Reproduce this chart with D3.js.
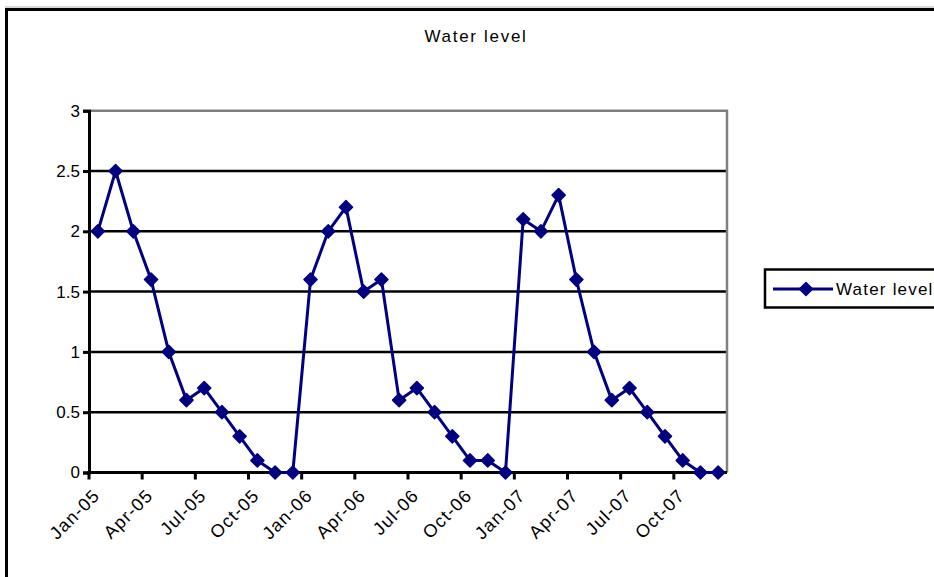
<!DOCTYPE html>
<html>
<head>
<meta charset="utf-8">
<script src="https://cdn.jsdelivr.net/npm/d3@7"></script>
<style>
  html, body { margin: 0; padding: 0; background: #fff; }
  svg { display: block; font-family: "Liberation Sans", Arial, sans-serif; }
</style>
</head>
<body>
<svg id="chart" width="934" height="577"></svg>
<script>
// Monthly observations, Jan 2005 – Dec 2007
const months = [
  "Jan-05","Feb-05","Mar-05","Apr-05","May-05","Jun-05","Jul-05","Aug-05","Sep-05","Oct-05","Nov-05","Dec-05",
  "Jan-06","Feb-06","Mar-06","Apr-06","May-06","Jun-06","Jul-06","Aug-06","Sep-06","Oct-06","Nov-06","Dec-06",
  "Jan-07","Feb-07","Mar-07","Apr-07","May-07","Jun-07","Jul-07","Aug-07","Sep-07","Oct-07","Nov-07","Dec-07"
];
const waterLevel = [
  2.0, 2.5, 2.0, 1.6, 1.0, 0.6, 0.7, 0.5, 0.3, 0.1, 0.0, 0.0,
  1.6, 2.0, 2.2, 1.5, 1.6, 0.6, 0.7, 0.5, 0.3, 0.1, 0.1, 0.0,
  2.1, 2.0, 2.3, 1.6, 1.0, 0.6, 0.7, 0.5, 0.3, 0.1, 0.0, 0.0
];
const tickMonths = ["Jan-05","Apr-05","Jul-05","Oct-05","Jan-06","Apr-06","Jul-06","Oct-06","Jan-07","Apr-07","Jul-07","Oct-07"];
const yTicks = [0, 0.5, 1, 1.5, 2, 2.5, 3];
const seriesName = "Water level";
const title = "Water level";

const svg = d3.select("#chart");
const navy = "#000080";

// Chart frame
svg.append("line").attr("x1", 5).attr("x2", 934).attr("y1", 7).attr("y2", 7)
  .attr("stroke", "#b0b0b0").attr("stroke-width", 1);
svg.append("rect").attr("x", 6.5).attr("y", 9.5).attr("width", 1000).attr("height", 1000)
  .attr("fill", "none").attr("stroke", "#000").attr("stroke-width", 3);

// Title
svg.append("text").attr("x", 476).attr("y", 42).attr("text-anchor", "middle")
  .attr("font-size", 17).attr("letter-spacing", 1.7).attr("fill", "#000").text(title);

const plotLeft = 89, plotRight = 727, plotTop = 110.7, plotBottom = 472.5;

const x = d3.scaleBand().domain(months).range([plotLeft, plotRight]).paddingInner(0).paddingOuter(0);
const y = d3.scaleLinear().domain([0, 3]).range([plotBottom, plotTop]);

// Gridlines
svg.append("g").selectAll("line").data(yTicks.filter(v => v > 0 && v < 3)).join("line")
  .attr("x1", plotLeft).attr("x2", plotRight)
  .attr("y1", d => y(d)).attr("y2", d => y(d))
  .attr("stroke", "#000").attr("stroke-width", 2.5);

// Plot area border (top and right)
svg.append("path")
  .attr("d", `M${plotLeft},${y(3)}H${plotRight}V${y(0)}`)
  .attr("fill", "none").attr("stroke", "#808080").attr("stroke-width", 2.5);

// Y axis
const yAxis = d3.axisLeft(y).tickValues(yTicks).tickSize(6).tickPadding(3)
  .tickFormat(d => d3.format("~g")(d));
const gy = svg.append("g").attr("transform", `translate(${plotLeft},0)`).call(yAxis);
gy.select(".domain").attr("stroke", "#000").attr("stroke-width", 3);
gy.selectAll(".tick line").attr("stroke", "#000").attr("stroke-width", 3);
gy.selectAll(".tick text").attr("font-size", 17).attr("fill", "#000")
  .attr("font-family", "Liberation Sans, Arial, sans-serif");

// X axis: ticks at the start of each quarter's first month
const xAxisG = svg.append("g");
xAxisG.append("line").attr("x1", plotLeft - 1.5).attr("x2", plotRight).attr("y1", plotBottom).attr("y2", plotBottom)
  .attr("stroke", "#000").attr("stroke-width", 3);
const xt = xAxisG.selectAll("g.xtick").data(tickMonths).join("g").attr("class", "xtick")
  .attr("transform", d => `translate(${x(d)},${plotBottom})`);
xt.append("line").attr("y1", 0).attr("y2", 7).attr("stroke", "#000").attr("stroke-width", 3);
xt.append("text")
  .attr("transform", "translate(3,15) rotate(-45)")
  .attr("text-anchor", "end").attr("dy", "0.71em")
  .attr("font-size", 18).attr("letter-spacing", 1.2).attr("fill", "#000")
  .text(d => d);

// Series line and markers
const cx = d => x(d) + x.bandwidth() / 2;
const pts = months.map((m, i) => [cx(m), y(waterLevel[i])]);
svg.append("path").datum(pts)
  .attr("d", d3.line())
  .attr("fill", "none").attr("stroke", navy).attr("stroke-width", 3).attr("stroke-linejoin", "round");

const diamond = d3.symbol().type(d3.symbolDiamond2).size(110);
svg.append("g").selectAll("path").data(pts).join("path")
  .attr("transform", d => `translate(${d[0]},${d[1]})`)
  .attr("d", diamond).attr("fill", navy).attr("stroke", navy).attr("stroke-width", 1.5)
  .attr("stroke-linejoin", "round");

// Legend
const lg = svg.append("g");
lg.append("rect").attr("x", 765).attr("y", 269.5).attr("width", 200).attr("height", 38)
  .attr("fill", "#fff").attr("stroke", "#000").attr("stroke-width", 2.5);
lg.append("line").attr("x1", 773).attr("x2", 833).attr("y1", 289).attr("y2", 289)
  .attr("stroke", navy).attr("stroke-width", 3);
lg.append("path").attr("transform", "translate(806,289)").attr("d", diamond)
  .attr("fill", navy).attr("stroke", navy).attr("stroke-width", 1.5).attr("stroke-linejoin", "round");
lg.append("text").attr("x", 836).attr("y", 295).attr("font-size", 17).attr("letter-spacing", 1.2)
  .attr("fill", "#000").text(seriesName);
</script>
</body>
</html>
